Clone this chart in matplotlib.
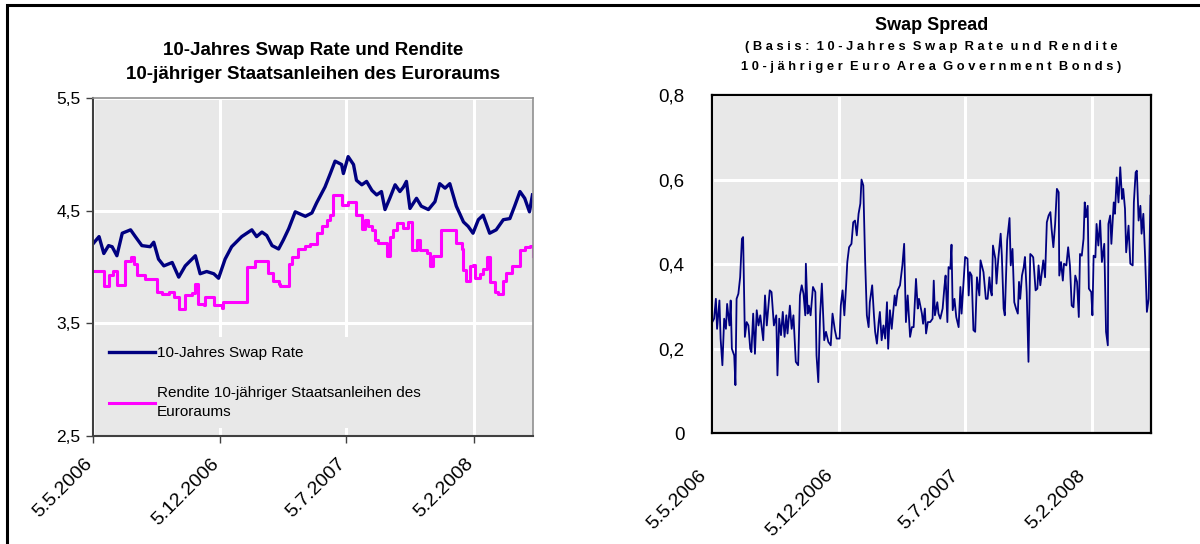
# Swap Rate / Rendite und Swap Spread, 5.5.2006 - Mai 2008

import numpy as np
import matplotlib
matplotlib.use("Agg")
import matplotlib.pyplot as plt
import matplotlib.transforms as mtransforms
from matplotlib.patches import Rectangle

plt.rcParams['font.family'] = ['Liberation Sans', 'DejaVu Sans']

start = np.datetime64('2006-05-05')

# days since 5.5.2006, values in %
swap_days = [0, 3, 11, 19, 27, 33, 41, 50, 64, 72, 83, 97, 103, 111, 120, 134, 145,
             156, 173, 181, 192, 204, 212, 223, 234, 251, 268, 276, 285, 293, 302,
             313, 321, 330, 341, 358, 369, 377, 391, 400, 408, 419, 422, 430, 439,
             444, 453, 461, 470, 478, 486, 492, 500, 509, 517, 523, 528, 534, 545,
             553, 565, 576, 584, 593, 601, 612, 624, 632, 640, 649, 657, 668, 679,
             691, 702, 710, 719, 727, 735, 740]
swap_vals = [4.20, 4.22, 4.27, 4.12, 4.19, 4.18, 4.10, 4.30, 4.33, 4.27, 4.19, 4.18,
             4.22, 4.07, 4.01, 4.04, 3.91, 4.01, 4.10, 3.94, 3.96, 3.94, 3.90, 4.07,
             4.18, 4.27, 4.33, 4.27, 4.31, 4.28, 4.19, 4.16, 4.24, 4.34, 4.49, 4.45,
             4.48, 4.57, 4.71, 4.83, 4.94, 4.91, 4.83, 4.98, 4.91, 4.77, 4.73, 4.76,
             4.68, 4.64, 4.67, 4.51, 4.61, 4.73, 4.67, 4.71, 4.76, 4.52, 4.61, 4.54,
             4.51, 4.58, 4.74, 4.70, 4.74, 4.54, 4.40, 4.36, 4.30, 4.42, 4.46, 4.30,
             4.33, 4.42, 4.43, 4.54, 4.67, 4.61, 4.49, 4.64]

rend_days = [0, 19, 27, 34, 41, 55, 64, 69, 75, 89, 109, 117, 128, 137, 145, 156,
             167, 173, 178, 187, 190, 204, 218, 220, 260, 274, 296, 304, 313, 316,
             330, 335, 346, 358, 366, 377, 386, 394, 400, 405, 419, 430, 444, 453,
             458, 464, 470, 475, 481, 495, 500, 506, 512, 523, 531, 537, 545, 551,
             562, 568, 573, 587, 612, 621, 624, 629, 635, 640, 643, 652, 657, 663,
             668, 677, 682, 691, 696, 705, 719, 727, 736, 741]
rend_vals = [3.96, 3.83, 3.93, 3.96, 3.84, 4.05, 4.09, 4.03, 3.93, 3.89, 3.78, 3.76,
             3.78, 3.73, 3.63, 3.75, 3.77, 3.85, 3.67, 3.66, 3.73, 3.66, 3.64, 3.69,
             4.00, 4.05, 3.95, 3.88, 3.85, 3.83, 4.03, 4.09, 4.16, 4.19, 4.20, 4.30,
             4.36, 4.42, 4.46, 4.64, 4.55, 4.58, 4.46, 4.34, 4.42, 4.36, 4.33, 4.24,
             4.21, 4.10, 4.27, 4.33, 4.39, 4.35, 4.40, 4.15, 4.24, 4.15, 4.12, 4.01,
             4.10, 4.33, 4.21, 4.16, 3.97, 3.88, 4.01, 4.02, 3.90, 3.94, 3.98, 4.09,
             3.87, 3.78, 3.76, 3.88, 3.95, 4.01, 4.15, 4.18, 4.19, 4.10]

spread_days = [0, 3, 6, 8, 12, 14, 17, 20, 23, 25, 29, 31, 33, 37, 39, 41, 44, 47, 50,
               52, 55, 58, 61, 64, 66, 69, 72, 75, 78, 81, 83, 86, 89, 92, 97, 100,
               104, 108, 110, 113, 116, 119, 122, 125, 127, 131, 134, 137, 141, 145,
               148, 151, 154, 157, 158, 161, 163, 166, 170, 174, 176, 179, 182, 185,
               189, 192, 196, 200, 203, 207, 210, 215, 217, 220, 223, 226, 228, 231,
               235, 238, 241, 244, 247, 250, 252, 255, 258, 261, 264, 266, 270, 273,
               275, 278, 281, 283, 286, 289, 292, 295, 297, 300, 303, 308, 310, 313,
               317, 321, 324, 327, 330, 334, 337, 340, 344, 347, 349, 354, 356, 359,
               361, 364, 368, 372, 374, 376, 380, 382, 385, 389, 392, 394, 397, 399,
               402, 404, 406, 409, 412, 416, 419, 421, 427, 431, 433, 435, 438, 441,
               444, 447, 451, 453, 458, 462, 465, 468, 470, 472, 474, 478, 480, 483,
               487, 489, 492, 494, 498, 502, 504, 507, 510, 513, 516, 518, 520, 523,
               526, 528, 531, 534, 537, 540, 542, 546, 549, 551, 554, 557, 559, 562,
               565, 568, 571, 573, 576, 579, 582, 585, 586, 589, 592, 594, 598, 601,
               604, 607, 610, 613, 616, 619, 621, 624, 627, 629, 631, 634, 636, 640,
               642, 644, 647, 649, 652, 655, 658, 662, 665, 668, 669, 672, 674, 678,
               680, 683, 686, 689, 692, 694, 697, 699, 703, 706, 710, 712, 715, 717,
               720, 723, 725, 728, 731, 734, 737, 740]
spread_vals = [0.263, 0.271, 0.318, 0.247, 0.314, 0.224, 0.161, 0.271, 0.247, 0.306,
               0.255, 0.314, 0.200, 0.184, 0.114, 0.318, 0.330, 0.369, 0.460, 0.464,
               0.228, 0.263, 0.255, 0.200, 0.192, 0.283, 0.188, 0.291, 0.255, 0.279,
               0.255, 0.220, 0.326, 0.255, 0.338, 0.334, 0.255, 0.279, 0.137, 0.271,
               0.232, 0.287, 0.228, 0.279, 0.236, 0.302, 0.247, 0.279, 0.169, 0.161,
               0.326, 0.350, 0.330, 0.279, 0.401, 0.283, 0.302, 0.279, 0.346, 0.334,
               0.184, 0.121, 0.279, 0.354, 0.220, 0.240, 0.216, 0.208, 0.283, 0.244,
               0.224, 0.224, 0.302, 0.338, 0.279, 0.350, 0.405, 0.440, 0.448, 0.499,
               0.503, 0.468, 0.519, 0.543, 0.600, 0.586, 0.413, 0.279, 0.251, 0.310,
               0.350, 0.279, 0.240, 0.212, 0.263, 0.287, 0.220, 0.255, 0.224, 0.310,
               0.200, 0.291, 0.247, 0.326, 0.302, 0.338, 0.350, 0.397, 0.448, 0.263,
               0.326, 0.228, 0.251, 0.251, 0.365, 0.295, 0.318, 0.283, 0.259, 0.295,
               0.236, 0.263, 0.263, 0.271, 0.361, 0.279, 0.310, 0.283, 0.271, 0.295,
               0.346, 0.373, 0.263, 0.393, 0.389, 0.446, 0.291, 0.318, 0.275, 0.251,
               0.346, 0.283, 0.417, 0.413, 0.326, 0.381, 0.373, 0.244, 0.240, 0.369,
               0.326, 0.409, 0.381, 0.318, 0.318, 0.369, 0.338, 0.326, 0.444, 0.413,
               0.354, 0.413, 0.472, 0.420, 0.295, 0.279, 0.456, 0.509, 0.397, 0.436,
               0.310, 0.295, 0.283, 0.358, 0.318, 0.373, 0.393, 0.417, 0.334, 0.169,
               0.424, 0.420, 0.416, 0.338, 0.342, 0.397, 0.350, 0.385, 0.409, 0.369,
               0.499, 0.515, 0.523, 0.484, 0.440, 0.495, 0.578, 0.570, 0.373, 0.405,
               0.361, 0.401, 0.397, 0.440, 0.397, 0.302, 0.298, 0.373, 0.358, 0.275,
               0.424, 0.420, 0.460, 0.546, 0.511, 0.538, 0.342, 0.334, 0.279, 0.420,
               0.416, 0.495, 0.444, 0.503, 0.405, 0.448, 0.240, 0.208, 0.495, 0.515,
               0.448, 0.546, 0.519, 0.605, 0.546, 0.629, 0.554, 0.578, 0.531, 0.428,
               0.491, 0.401, 0.397, 0.546, 0.617, 0.621, 0.503, 0.538, 0.472, 0.519,
               0.417, 0.287, 0.318, 0.562]

tick_dates = ['2006-05-05', '2006-12-05', '2007-07-05', '2008-02-05']
tick_labels = ['5.5.2006', '5.12.2006', '5.7.2007', '5.2.2008']
end_date = '2008-05-15'

left_yticks = [2.5, 3.5, 4.5, 5.5]
left_ylabels = ['2,5', '3,5', '4,5', '5,5']
right_yticks = [0, 0.2, 0.4, 0.6, 0.8]
right_ylabels = ['0', '0,2', '0,4', '0,6', '0,8']

NAVY = '#000080'
PINK = '#FF00FF'
BG = '#E8E8E8'


def to_dates(days):
    return start + np.array(days).astype('timedelta64[D]')


def style_axes(ax):
    ax.set_facecolor(BG)
    ax.set_xlim(np.datetime64(tick_dates[0]), np.datetime64(end_date))
    ax.set_xticks([np.datetime64(d) for d in tick_dates])
    ax.set_xticklabels(tick_labels, rotation=45, ha='right', rotation_mode='anchor',
                       fontsize=14)
    ax.grid(True, color='white', linewidth=2.2)
    ax.set_axisbelow(True)


def shift_xlabels(ax, dx):
    # nudge the rotated date labels sideways (pixels)
    off = mtransforms.ScaledTranslation(dx / 100, 0, fig.dpi_scale_trans)
    for lab in ax.get_xticklabels():
        lab.set_transform(lab.get_transform() + off)


fig = plt.figure(figsize=(12, 5.44), dpi=100)

# outer frame
fig.patches.append(Rectangle((7 / 1200, -0.05), 1.2, 1.05 - 5 / 544, transform=fig.transFigure,
                             fill=False, edgecolor='black', linewidth=2.2))

# left chart
ax1 = fig.add_axes([0.0771, 0.1987, 0.3671, 0.621])
style_axes(ax1)
ax1.plot(to_dates(swap_days), swap_vals, color=NAVY, linewidth=2.4,
         label='10-Jahres Swap Rate')
ax1.plot(to_dates(rend_days), rend_vals, color=PINK, linewidth=2.2, drawstyle='steps-post',
         label='Rendite 10-jähriger Staatsanleihen des\nEuroraums')
ax1.set_ylim(2.5, 5.5)
ax1.set_yticks(left_yticks)
ax1.set_yticklabels(left_ylabels, fontsize=12.5)
ax1.tick_params(axis='both', length=5, color='#404040', width=1)
ax1.tick_params(axis='x', pad=9)
for s in ['left', 'bottom']:
    ax1.spines[s].set_color('#404040')
    ax1.spines[s].set_linewidth(1.5)
for s in ['top', 'right']:
    ax1.spines[s].set_color('#909090')
    ax1.spines[s].set_linewidth(1.2)
leg = ax1.legend(loc='lower left', bbox_to_anchor=(0.0, 0.0), fontsize=11,
                 frameon=True, facecolor=BG, edgecolor='none', framealpha=1,
                 handlelength=3.0, handletextpad=0.1, labelspacing=1.7, borderpad=0.6)
leg.get_texts()[1].set_linespacing(1.45)
ax1.set_title('10-Jahres Swap Rate und Rendite\n10-jähriger Staatsanleihen des Euroraums',
              fontsize=13.5, fontweight='bold', pad=14, linespacing=1.5)
shift_xlabels(ax1, -9)

# right chart
ax2 = fig.add_axes([0.5936, 0.2035, 0.3656, 0.6219])
style_axes(ax2)
ax2.plot(to_dates(spread_days), spread_vals, color=NAVY, linewidth=1.3)
ax2.set_ylim(0, 0.8)
ax2.set_yticks(right_yticks)
ax2.set_yticklabels(right_ylabels, fontsize=13.5)
ax2.tick_params(axis='both', length=0)
ax2.tick_params(axis='y', pad=20)
ax2.tick_params(axis='x', pad=24)
for s in ax2.spines.values():
    s.set_color('black')
    s.set_linewidth(1.6)
shift_xlabels(ax2, -15)
fig.text(0.776, 0.953, 'Swap Spread', ha='center', va='center', fontsize=13,
         fontweight='bold')
fig.text(0.776, 0.896, '( B a s i s :  1 0 - J a h r e s  S w a p  R a t e  u n d  R e n d i t e\n'
         '1 0 - j ä h r i g e r  E u r o  A r e a  G o v e r n m e n t  B o n d s )',
         ha='center', va='center', fontsize=9.3, fontweight='bold', linespacing=1.9)

plt.savefig('out.png', dpi=100)
